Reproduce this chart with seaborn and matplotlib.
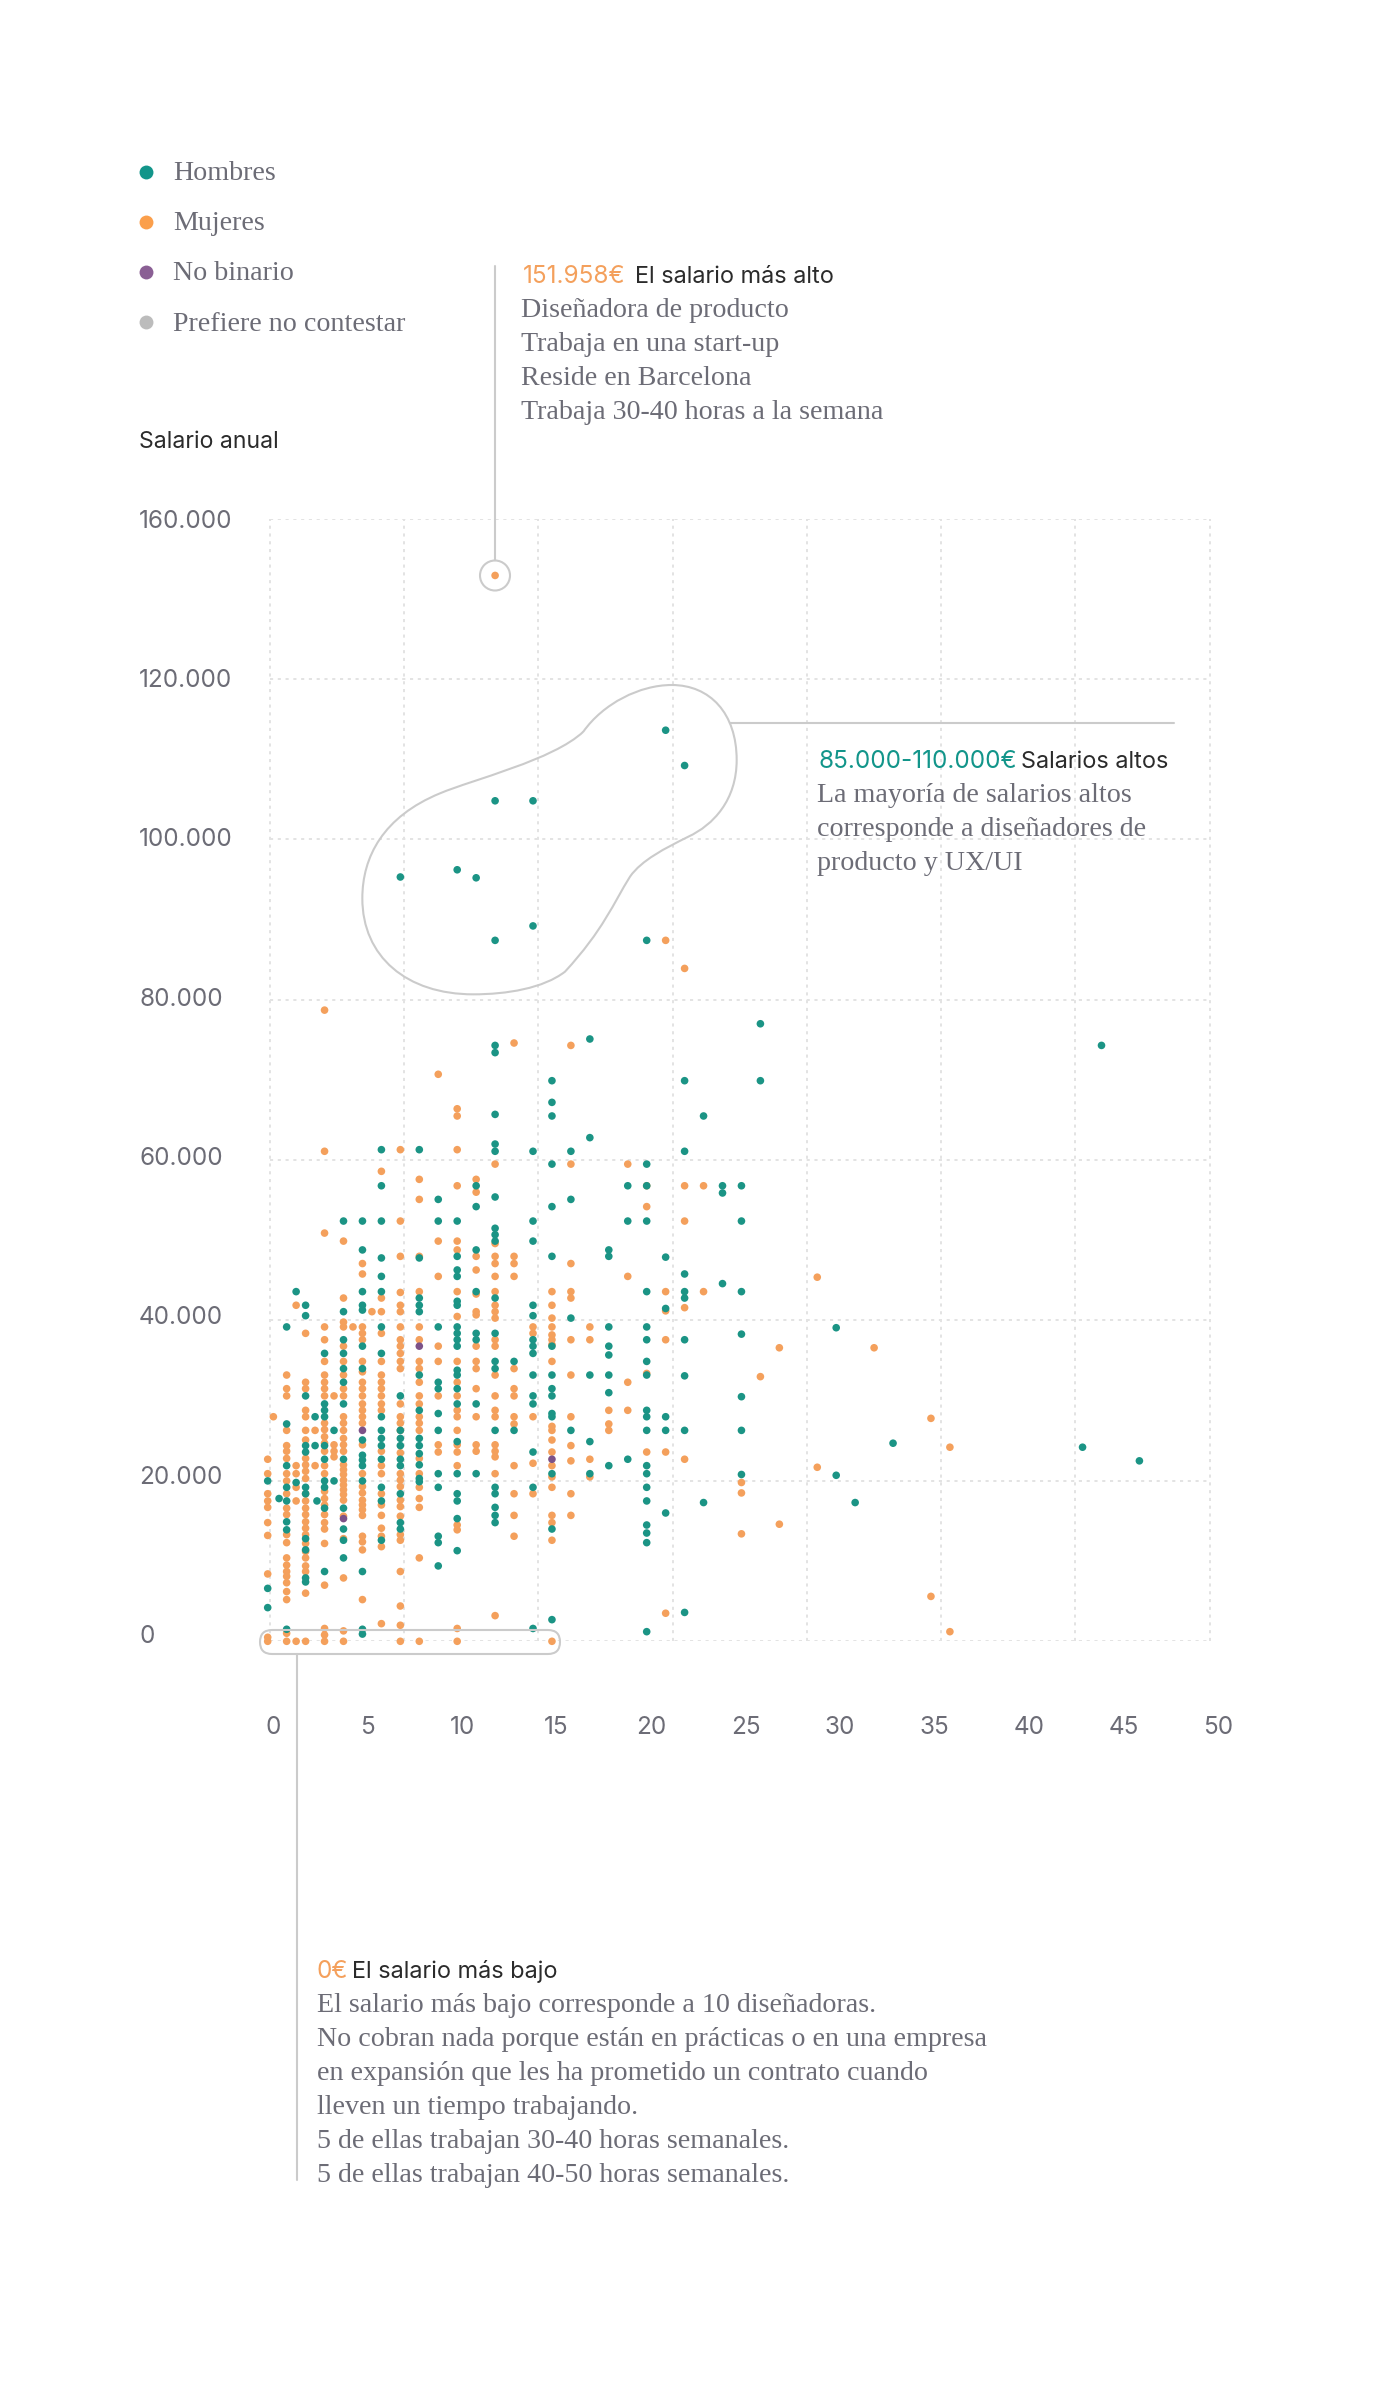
#scatter of annual salary vs years of experience, by gender

import numpy as np
import pandas as pd
from matplotlib import pyplot as plt
from matplotlib.lines import Line2D
from matplotlib.patches import Circle, FancyBboxPatch, PathPatch
from matplotlib.path import Path
from matplotlib.transforms import Affine2D
import seaborn as sns

#years of experience of each column of dots, and how many dots it holds
hombres_col = [0,0.6,1,1.5,2,2.5,2.6,3,3.5,4,5,6,7,8,9,10,11,12,13,14,15,16,17,18,19,20,21,22,23,24,25,26,30,31,33,43,44,46]
hombres_n = [3,1,8,2,11,2,1,10,2,12,15,16,10,13,12,21,9,21,2,16,15,4,5,8,3,20,6,10,2,3,7,2,2,1,1,1,1,1]
#salaries in thousands, one line per column
hombres_sal = [
    20.0,6.6,4.2,
    17.8,
    39.2,27.1,21.9,19.2,17.5,14.9,13.9,1.5,
    43.6,19.8,
    41.9,40.6,30.6,24.4,23.6,19.2,18.4,12.8,11.4,7.9,7.4,
    28.0,24.4,
    17.5,
    35.9,29.6,28.8,28.0,24.4,22.7,20.0,19.2,16.6,8.7,
    26.3,20.0,
    52.4,41.1,37.6,35.9,34.0,32.3,29.6,22.7,16.6,14.0,12.6,10.4,
    52.4,48.8,43.6,41.9,41.3,36.8,34.0,25.1,23.2,22.6,21.9,20.0,8.7,1.5,0.9,
    61.3,56.8,52.4,47.8,45.5,43.6,39.2,35.9,28.0,26.3,25.3,24.4,22.7,19.2,17.5,12.6,
    95.3,30.6,26.3,25.3,24.4,22.7,21.9,18.4,14.8,14.0,
    61.3,47.8,42.8,41.9,41.1,33.2,28.8,25.3,24.4,23.4,22.0,20.3,19.9,
    55.1,52.4,39.2,32.3,31.5,28.4,26.3,20.9,19.2,13.1,12.3,9.4,
    96.2,52.4,48.0,46.3,45.5,42.4,41.9,39.2,38.4,37.6,36.8,33.8,33.2,31.5,29.6,24.9,20.9,18.4,17.5,15.3,11.3,
    95.2,56.8,54.2,48.8,43.6,38.4,37.6,29.6,20.9,
    104.8,87.4,74.3,73.4,65.7,62.0,61.1,55.4,51.5,50.7,49.9,42.8,38.4,34.9,34.0,26.3,19.2,18.4,16.7,15.7,14.8,
    34.9,26.3,
    104.8,89.2,61.1,52.4,49.9,41.9,40.6,37.6,36.8,35.9,33.2,30.6,29.6,23.6,19.2,1.6,
    69.9,67.2,65.5,59.5,54.2,48.0,36.8,33.2,31.5,30.6,28.4,28.0,20.9,14.0,2.7,
    61.1,55.1,40.3,26.3,
    75.1,62.8,33.2,24.9,20.9,
    48.8,48.0,39.2,36.8,35.7,33.2,31.0,21.9,
    56.8,52.4,22.7,
    87.4,59.5,56.8,52.4,43.6,39.2,37.6,34.9,33.2,28.8,28.0,26.3,21.9,20.9,19.2,17.5,14.5,13.5,12.3,1.2,
    113.6,47.9,41.5,28.0,26.3,16.0,
    109.2,69.9,61.1,45.8,43.6,42.8,37.6,33.1,26.3,3.6,
    65.5,17.3,
    56.8,55.9,44.6,
    56.8,52.4,43.6,38.3,30.5,26.3,20.8,
    77.0,69.9,
    39.1,20.7,
    17.3,
    24.7,
    24.2,
    74.3,
    22.5,
]

mujeres_col = [0,0.3,1,1.5,2,2.5,3,3.5,4,4.5,5,5.5,6,7,8,9,10,11,12,13,14,15,16,17,18,19,20,21,22,23,25,26,27,29,32,35,36]
mujeres_n = [10,1,23,6,25,2,28,4,28,1,26,1,21,29,21,8,21,14,21,13,5,19,12,4,3,4,4,6,5,2,3,1,2,2,1,2,2]
mujeres_sal = [
    22.7,20.9,18.4,17.5,16.7,14.8,13.2,8.4,0.5,0,
    28.0,
    33.2,31.5,30.6,26.3,24.4,23.7,22.8,20.9,20.0,18.4,16.6,15.8,13.3,12.3,10.4,9.5,8.7,8.1,7.3,6.2,5.2,1.0,0,
    41.9,21.9,20.9,19.2,17.5,0,
    38.4,32.3,31.5,28.8,28.0,26.3,25.1,22.8,22.0,21.2,20.3,18.4,17.5,16.6,15.8,14.9,14.1,13.3,12.2,11.2,10.4,9.4,8.7,6.0,0,
    26.3,21.9,
    78.7,61.1,50.9,39.2,37.6,34.9,33.2,32.3,31.5,30.6,27.2,26.4,25.5,24.7,23.7,21.9,20.9,18.7,17.8,17.0,15.8,14.8,14.0,12.2,7.0,1.6,0.8,0,
    30.6,24.5,23.7,23.0,
    49.9,42.8,39.8,39.2,36.8,34.9,33.2,31.5,30.6,28.0,27.2,26.3,25.3,24.5,23.7,22.0,21.4,20.8,20.1,19.5,18.9,18.3,17.6,15.6,12.8,7.9,1.3,0,
    39.2,
    47.1,45.8,39.2,38.4,37.6,34.9,33.6,32.3,31.5,30.6,29.6,28.8,28.0,27.2,24.5,20.9,19.3,18.5,17.6,17.0,16.4,15.7,13.1,12.4,11.4,5.2,
    41.1,
    58.6,42.8,41.1,38.4,34.9,33.2,32.3,31.5,30.6,29.6,28.8,23.7,21.9,20.9,18.4,17.0,15.7,14.1,13.1,11.8,2.2,
    61.3,52.4,48.0,43.5,41.9,41.1,39.2,37.6,36.8,35.9,34.9,34.0,29.6,28.0,27.2,26.3,23.5,20.9,20.1,19.3,17.6,16.8,15.6,13.3,12.6,8.7,4.4,2.0,0,
    57.6,55.1,48.0,43.6,39.2,37.6,34.9,34.0,32.3,30.6,29.6,28.0,27.2,26.3,22.8,20.9,19.2,17.8,16.7,10.4,0,
    70.7,49.9,45.5,36.8,34.9,30.6,24.5,23.6,
    66.4,65.5,61.3,56.8,49.9,48.8,43.6,40.5,34.9,32.3,30.6,28.8,28.0,26.3,24.5,23.6,21.9,14.5,13.9,1.6,0,
    57.6,56.0,48.0,46.3,43.3,41.1,40.7,36.8,34.9,34.0,31.5,28.0,24.5,23.7,
    132.9,59.5,49.6,48.0,47.1,45.5,43.6,41.9,41.1,40.3,37.6,36.8,33.2,30.6,28.8,28.0,24.5,23.7,20.9,3.2,23.0,
    74.6,48.0,47.1,45.5,34.0,31.5,30.6,28.0,27.1,21.9,18.4,15.7,13.1,
    39.2,38.4,28.0,22.2,18.4,
    43.6,41.9,40.3,39.2,38.2,37.6,37.0,34.9,26.8,26.3,25.1,23.6,21.9,20.5,19.2,15.7,14.8,12.6,0,
    74.3,59.5,47.1,43.6,42.8,37.6,33.2,28.0,24.4,22.5,18.4,15.7,
    39.2,37.6,22.7,20.5,
    28.8,27.1,26.3,
    59.5,45.5,32.3,28.8,
    56.8,54.2,33.4,23.6,
    87.4,43.6,41.2,37.6,23.6,3.5,
    83.9,56.8,52.4,41.6,22.7,
    56.8,43.6,
    19.8,18.5,13.4,
    33.0,
    36.6,14.6,
    45.4,21.7,
    36.6,
    27.8,5.6,
    24.2,1.2,
]

no_binario_col = [4,5,8,15]
no_binario_sal = [15.3,26.3,36.8,22.7]

x_ticks = [0,5,10,15,20,25,30,35,40,45,50]
y_labels = ['0','20.000','40.000','60.000','80.000','100.000','120.000','160.000']
leyenda = ['Hombres','Mujeres','No binario','Prefiere no contestar']
leyenda_colores = ['#12958a','#fb9f4b','#8a5f94','#bcbcbc']

verde = '#1b9485'
naranja = '#f4a05c'
morado = '#7c5288'
gris_texto = '#6c6c76'
negro = '#2b2b2b'
gris_linea = '#cbcbcb'
grid_color = '#e3e3e3'

sns.set_theme(style='white')
plt.rcParams['font.family'] = ['Inter', 'DejaVu Sans']
SERIF = 'Liberation Serif'
SERIF_SIZE = 20.2
SANS_SIZE = 16.9
NUM_SIZE = 17.5

#all the annotation stuff below is placed in pixels, top-left origin
px = Affine2D().scale(1, -1).translate(0, 2400)

fig = plt.figure(figsize=(14, 24), dpi=100, facecolor='white')

#one year is 18.95px, 20k is 160.4px
x0, x_scale = 267.7, 18.95
y0, y_scale = 1641.3, 160.4 / 20
ax_left = x0 - x_scale
ax_right = x0 + 51 * x_scale
ax = fig.add_axes([ax_left / 1400, (2400 - y0) / 2400, (ax_right - ax_left) / 1400, 140 * y_scale / 2400])

df = pd.concat([
    pd.DataFrame({'exp': np.repeat(mujeres_col, mujeres_n), 'salario': mujeres_sal, 'genero': 'Mujeres'}),
    pd.DataFrame({'exp': np.repeat(hombres_col, hombres_n), 'salario': hombres_sal, 'genero': 'Hombres'}),
    pd.DataFrame({'exp': no_binario_col, 'salario': no_binario_sal, 'genero': 'No binario'}),
])

#the grid does not follow the ticks in the original: 8 lines each way
grid_x = np.linspace(0.12, 49.7, 8)
grid_y = np.arange(0, 141, 20)
dots = (0, (1.6, 2.4))
ax.vlines(grid_x, 0, 140, color=grid_color, lw=1.4, linestyle=dots, zorder=1)
ax.hlines(grid_y, grid_x[0], grid_x[-1], color=grid_color, lw=1.4, linestyle=dots, zorder=1)

sns.scatterplot(data=df, x='exp', y='salario', hue='genero', ax=ax, s=30, linewidth=0, legend=False,
                palette={'Hombres': verde, 'Mujeres': naranja, 'No binario': morado},
                clip_on=False, zorder=3)

ax.set_xlim(-1, 51)
ax.set_ylim(0, 140)
ax.set_xlabel('')
ax.set_ylabel('')
sns.despine(ax=ax, left=True, bottom=True)

#tick labels sit a few px off the values, same as in the picture
ax.set_xticks(np.array(x_ticks) * 0.9975 + 0.28)
ax.set_xticklabels(x_ticks)
ax.set_yticks(np.linspace(0.9, 140.0, 8))
ax.set_yticklabels(y_labels, ha='left')
ax.tick_params(axis='x', length=0, pad=53.5, labelsize=NUM_SIZE, labelcolor=gris_texto)
ax.tick_params(axis='y', length=0, pad=79, labelsize=NUM_SIZE, labelcolor=gris_texto)

def texto(x, y, s, color=gris_texto, family=SERIF, size=SERIF_SIZE):
    fig.text(x / 1400, 1 - y / 2400, s, color=color, family=family, size=size, ha='left', va='baseline')

def sans(x, y, s, color=negro, size=SANS_SIZE):
    texto(x, y, s, color=color, family='Inter', size=size)

#legend
for i, (nombre, c) in enumerate(zip(leyenda, leyenda_colores)):
    fig.add_artist(Line2D([145.5], [172 + 50 * i], marker='o', ms=10, mew=0, color=c, transform=px))
    texto(173, [180, 230, 280, 331][i], nombre)

sans(139, 448, 'Salario anual', size=16.6)

#callout: highest salary
sans(523, 283, '151.958€', color=naranja, size=NUM_SIZE)
sans(635, 283, 'El salario más alto')
for i, linea in enumerate(['Diseñadora de producto', 'Trabaja en una start-up', 'Reside en Barcelona',
                           'Trabaja 30-40 horas a la semana']):
    texto(521, 317 + 34 * i, linea)
fig.add_artist(Line2D([495, 495], [266, 560], color=gris_linea, lw=1.5, transform=px))
fig.add_artist(Circle((495, 575.5), 15, fill=False, ec=gris_linea, lw=1.5, transform=px))

#callout: high salaries
sans(818, 768, '85.000-110.000€', color='#12958a', size=NUM_SIZE)
sans(1021, 768, 'Salarios altos')
for i, linea in enumerate(['La mayoría de salarios altos', 'corresponde a diseñadores de', 'producto y UX/UI']):
    texto(817, 802 + 34 * i, linea)
fig.add_artist(Line2D([730, 1174], [723, 723], color=gris_linea, lw=1.5, transform=px))

blob = np.array([
    (730, 215),
    (790, 130), (900, 75), (995, 75),
    (1110, 75), (1190, 160), (1190, 300),
    (1190, 420), (1120, 495), (1045, 530),
    (975, 565), (905, 600), (870, 650),
    (820, 730), (790, 810), (675, 935),
    (610, 985), (500, 1003), (400, 1003),
    (200, 1003), (67, 890), (67, 715),
    (67, 590), (130, 470), (300, 400),
    (400, 358), (640, 300), (730, 215),
]) / 3 + (340, 660)
codes = [Path.MOVETO] + [Path.CURVE4] * (len(blob) - 1)
fig.add_artist(PathPatch(Path(blob, codes), fill=False, ec=gris_linea, lw=1.5, transform=px))

#callout: lowest salary
sans(317, 1978, '0€', color=naranja, size=NUM_SIZE)
sans(352, 1978, 'El salario más bajo')
for i, linea in enumerate(['El salario más bajo corresponde a 10 diseñadoras.',
                           'No cobran nada porque están en prácticas o en una empresa',
                           'en expansión que les ha prometido un contrato cuando',
                           'lleven un tiempo trabajando.',
                           '5 de ellas trabajan 30-40 horas semanales.',
                           '5 de ellas trabajan 40-50 horas semanales.']):
    texto(317, 2012 + 34 * i, linea)
fig.add_artist(FancyBboxPatch((272, 1642), 276, 0, boxstyle='round,pad=12,rounding_size=12', fill=False,
                              ec=gris_linea, lw=1.5, transform=px))
fig.add_artist(Line2D([297, 297], [1654, 2180], color=gris_linea, lw=1.5, transform=px))

fig.savefig('out.png', dpi=100, facecolor='white')
